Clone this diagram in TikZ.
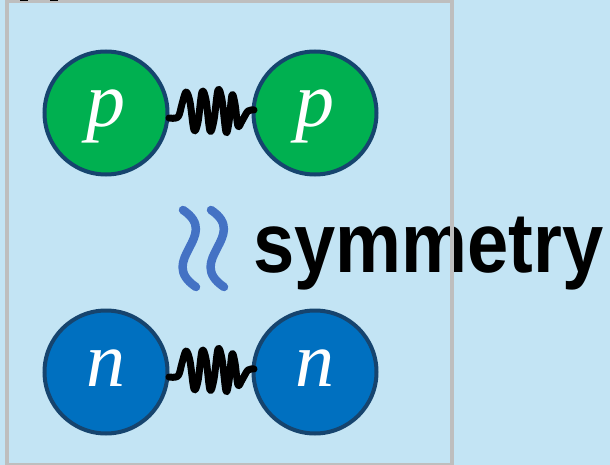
\documentclass[tikz,border=0pt]{standalone}
\usepackage{fontspec}
\newfontfamily\symfont{Liberation Sans}
\newfontfamily\letfont{Liberation Serif}
\definecolor{bg}{RGB}{195,228,244}
\definecolor{framegray}{RGB}{190,190,190}
\definecolor{pgreen}{RGB}{0,176,80}
\definecolor{nblue}{RGB}{0,112,192}
\definecolor{rimblue}{RGB}{22,68,110}
\definecolor{wavyblue}{RGB}{68,114,196}
\tikzset{
  nucleon/.style={circle,draw=rimblue,line width=4pt,minimum size=123pt,inner sep=0pt},
  protonc/.style={nucleon,fill=pgreen},
  neutronc/.style={nucleon,fill=nblue},
  letter/.style={text=white,font=\letfont\itshape\fontsize{78}{78}\selectfont,inner sep=0pt,anchor=base},
  springline/.style={line width=7pt,line cap=round,line join=round,black},
  wavy/.style={line width=8.5pt,line cap=round,wavyblue},
  framebox/.style={draw=framegray,line width=4pt},
}
\begin{document}
\begin{tikzpicture}[x=1pt,y=-1pt]
\fill[bg] (0,0) rectangle (610,465);
\useasboundingbox (0,0) rectangle (610,465);
% nucleons
\node[protonc] (p1) at (106,113) {};
\node[protonc] (p2) at (315,113) {};
\node[neutronc] (n1) at (106,372) {};
\node[neutronc] (n2) at (315,372) {};
\node[letter] (p1t) at (106,127) {p};
\node[letter] (p2t) at (315,127) {p};
\node[letter] (n1t) at (106,386) {n};
\node[letter] (n2t) at (315,386) {n};
% springs
\foreach \dy in {0,259}{
  \begin{scope}[yshift=-\dy pt]
  \draw[springline] plot[smooth,tension=0.55] coordinates {
    (169,118) (178,117) (182,104) (186,92) (190,102) (194,130) (198,122)
    (202,92) (206,100) (210,131) (214,120) (218,90) (222,100) (226,132)
    (229,122) (232,95) (235,104) (238,126) (242,121) (248,111) (254,110)};
  \end{scope}
}
% wavy symbol
\foreach \dx in {0,28}{
  \draw[wavy] (183+\dx,210) .. controls (222+\dx,236) and (156+\dx,260) .. (196+\dx,287);
}
% text
\node[anchor=base west,inner sep=0pt] (sym) at (253,272)
  {\scalebox{0.872}[1]{\symfont\bfseries\fontsize{85}{85}\selectfont symmetry}};
% frame
\draw[framebox] (7,1.5) rectangle (452,464.5);
\fill[black] (20,0) rectangle (28,1.3);
\fill[black] (50,0) rectangle (58,1.3);
\end{tikzpicture}
\end{document}
